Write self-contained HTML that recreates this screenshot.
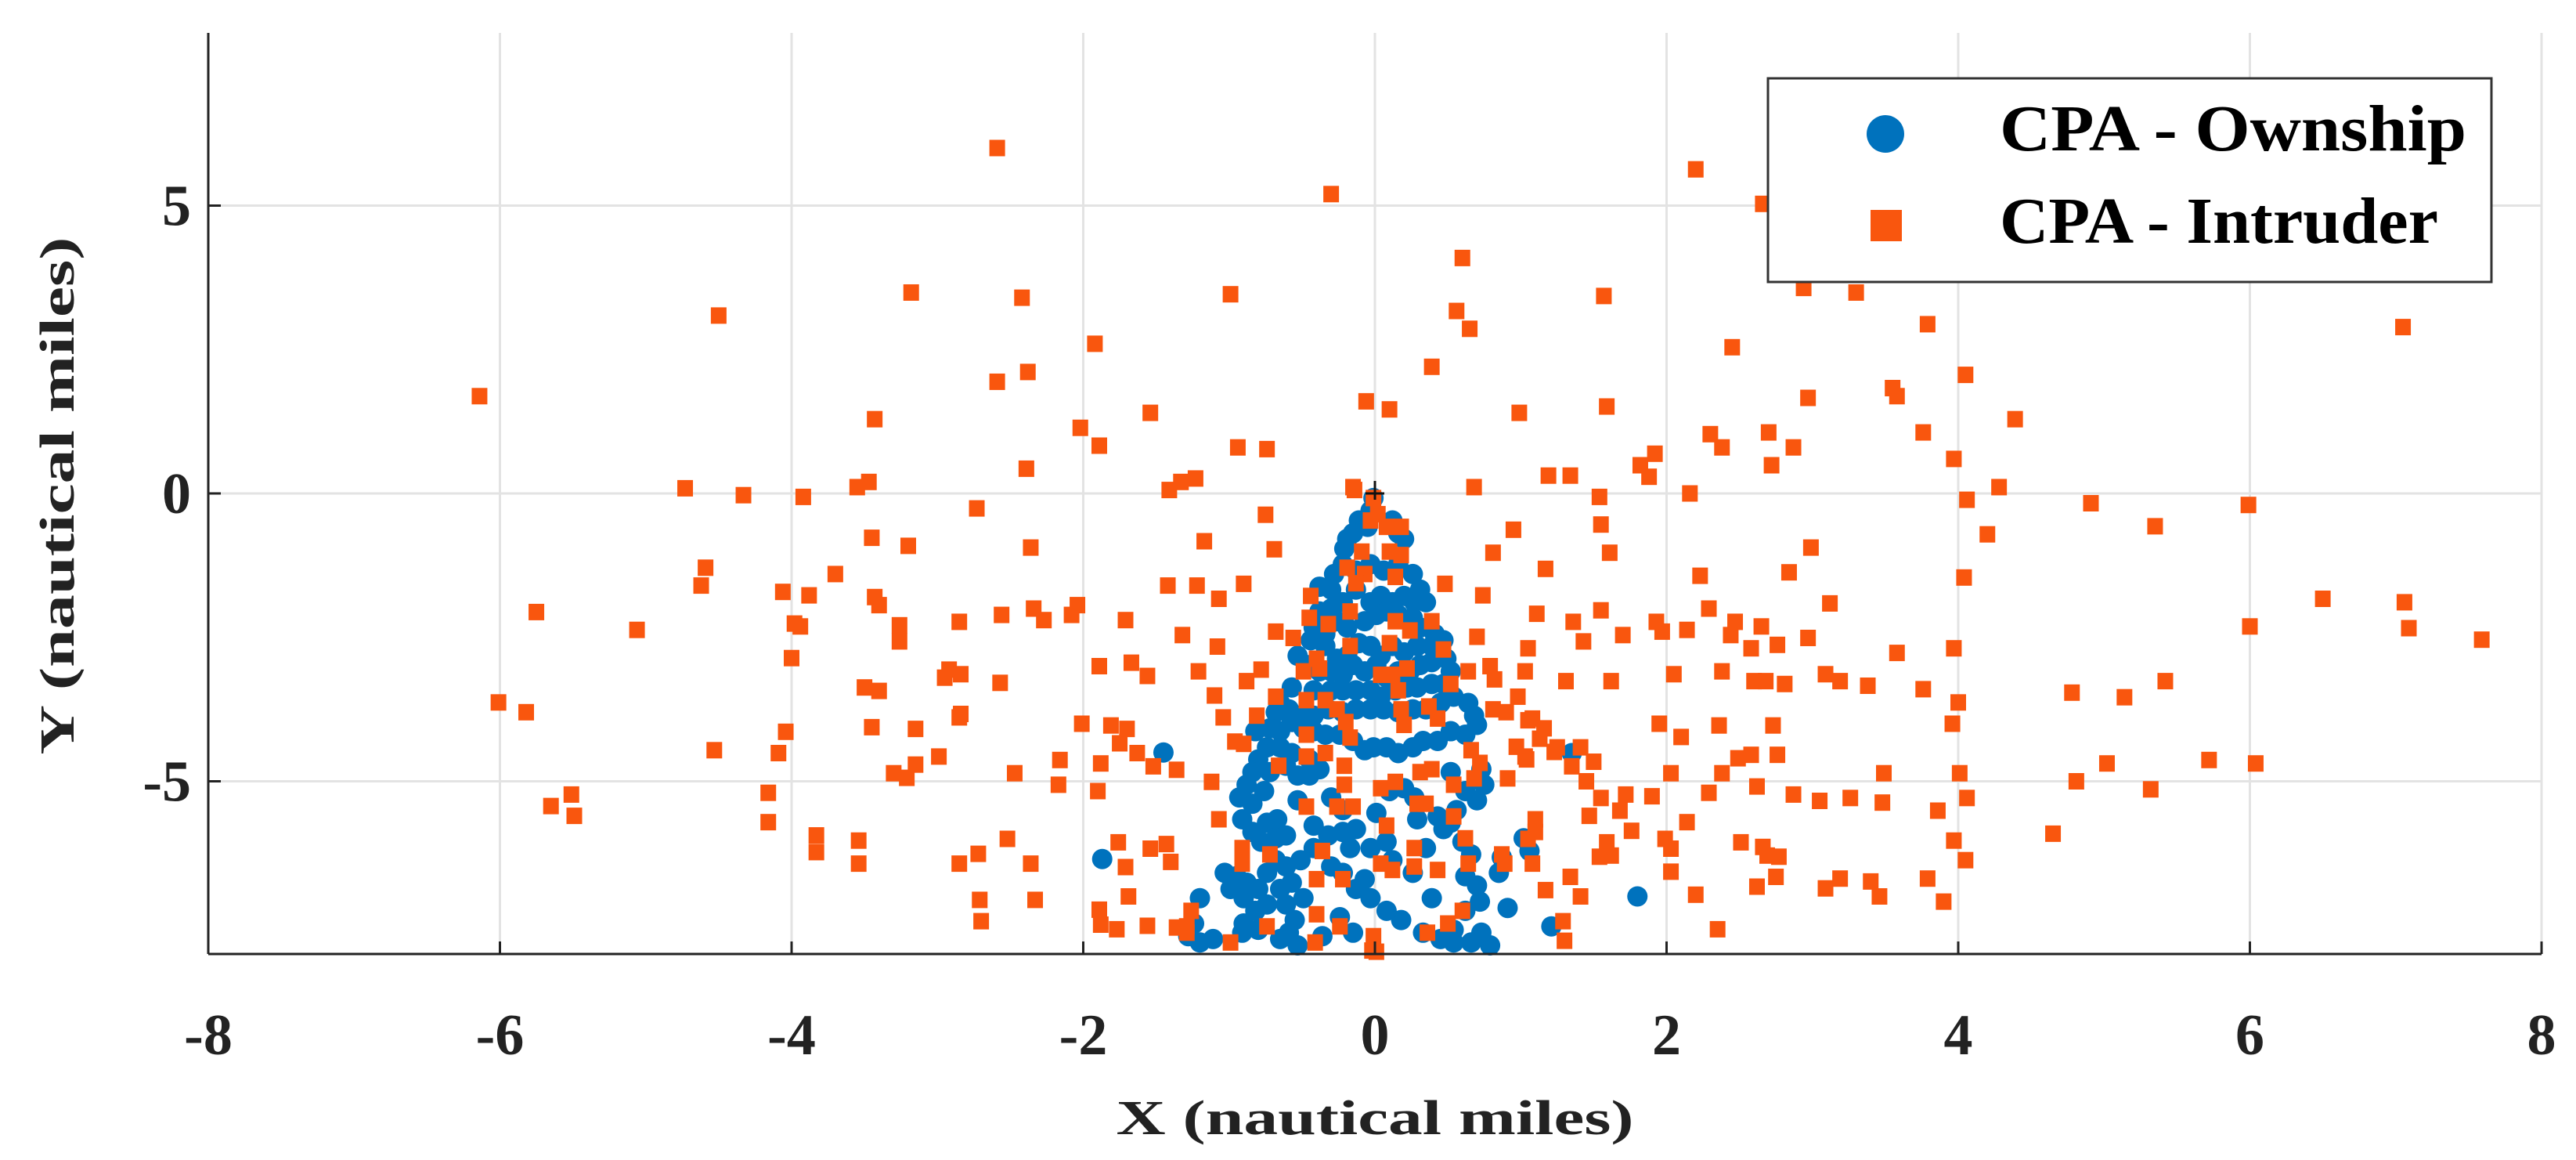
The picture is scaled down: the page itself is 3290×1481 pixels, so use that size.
<!DOCTYPE html>
<html><head><meta charset="utf-8"><style>
html,body{margin:0;padding:0;background:#fff;}
svg{display:block;}
text{font-family:"Liberation Serif",serif;font-weight:bold;fill:#222;}
</style></head><body>
<svg id="chart" width="3290" height="1481" viewBox="0 0 3290 1481" xmlns="http://www.w3.org/2000/svg">
<g id="grid"></g>
<g id="own"></g>
<g id="intr"></g>
<g id="axes"></g>
<text x="1756" y="1448" font-size="62" text-anchor="middle" textLength="661" lengthAdjust="spacingAndGlyphs">X (nautical miles)</text>
<text x="0" y="0" font-size="62" text-anchor="middle" textLength="661" lengthAdjust="spacingAndGlyphs" transform="translate(94,633) rotate(-90)">Y (nautical miles)</text>
<g>
<rect x="2258" y="100" width="924" height="260" fill="#fff" stroke="#333" stroke-width="3"/>
<ellipse cx="2408" cy="171" rx="24" ry="24" fill="#0072BD"/>
<text x="2554" y="192" font-size="84" textLength="596" lengthAdjust="spacingAndGlyphs" style="fill:#000">CPA - Ownship</text>
<rect x="2389" y="268" width="40" height="40" fill="#F9560E"/>
<text x="2554" y="310" font-size="84" textLength="560" lengthAdjust="spacingAndGlyphs" style="fill:#000">CPA - Intruder</text>
</g>
</svg>
<script>
const xTicks=[-8,-6,-4,-2,0,2,4,6,8];
const yTicks=[-5,0,5];
const ownX=[-0.01,-0.03,-0.11,-0.19,-0.21,-0.15,-0.05,0.12,0.16,0.20,-0.28,-0.38,-0.30,-0.22,-0.13,-0.03,0.06,0.16,0.26,0.31,0.35,0.27,0.20,0.12,0.04,-0.03,-0.13,-0.22,-0.30,-0.38,-0.42,-0.44,-0.34,-0.26,-0.19,-0.07,0.01,0.08,0.16,0.26,0.31,0.41,0.47,0.39,0.29,0.20,0.12,0.04,-0.03,-0.11,-0.19,-0.26,-0.34,-0.53,-0.47,-0.38,-0.30,-0.22,-0.15,-0.07,0.01,0.08,0.16,0.24,0.31,0.39,0.49,0.52,0.47,0.39,0.29,0.22,0.14,0.04,-0.03,-0.13,-0.22,-0.30,-0.42,-0.57,-0.65,-0.68,-0.59,-0.51,-0.42,-0.32,-0.22,-0.13,-0.03,0.06,0.16,0.26,0.35,0.45,0.54,0.64,0.68,0.70,0.62,0.52,0.43,0.33,0.26,0.16,0.08,-0.01,-0.07,-0.15,-0.24,-0.34,-0.42,-0.49,-0.57,-0.65,-0.72,-0.82,-0.74,-0.80,-0.84,-0.88,-0.93,-0.84,-0.76,-0.72,-0.61,-0.53,-0.45,-0.38,-0.45,-0.57,-0.65,-0.53,-0.30,-0.22,0.01,0.10,0.20,0.27,0.43,0.52,0.56,0.52,0.62,0.70,0.75,0.73,0.29,0.35,0.47,0.60,0.66,0.62,0.70,0.72,0.85,0.87,1.02,1.06,0.91,0.62,0.54,0.73,0.79,0.66,0.54,0.45,0.33,0.39,0.18,0.08,-0.03,-0.07,-0.13,-0.22,-0.30,-0.42,-0.51,-0.61,-0.68,-0.74,-0.80,-0.88,-0.95,-1.03,-0.99,-0.90,-0.82,-0.74,-0.65,-0.57,-0.61,-0.55,-0.49,-0.59,-0.65,-0.53,-0.80,-0.90,-0.91,-1.11,-1.20,-1.24,-1.20,-1.28,-0.36,-0.24,-0.15,-0.13,-0.22,-0.32,-0.42,-0.17,-0.03,0.08,0.12,0.26,-0.91,-0.84,-0.74,-0.67,-0.68,-0.61,-0.78,1.35,1.21,-1.87,-1.45,1.80];
const ownY=[-0.08,-0.30,-0.47,-0.79,-0.96,-0.69,-0.58,-0.47,-0.69,-0.79,-1.40,-1.62,-1.67,-1.23,-1.34,-1.23,-1.34,-1.23,-1.40,-1.67,-1.89,-1.89,-1.78,-1.89,-1.78,-1.89,-1.67,-1.89,-2.00,-2.05,-2.33,-2.55,-2.44,-2.22,-2.33,-2.22,-2.11,-2.05,-2.11,-2.16,-2.33,-2.44,-2.55,-2.65,-2.65,-2.76,-2.65,-2.82,-2.65,-2.60,-2.82,-2.87,-2.65,-2.82,-2.98,-3.09,-3.09,-3.15,-2.98,-3.09,-2.98,-3.20,-3.09,-3.09,-2.98,-2.93,-2.87,-3.09,-3.31,-3.31,-3.37,-3.37,-3.42,-3.53,-3.42,-3.42,-3.42,-3.42,-3.42,-3.37,-3.64,-3.80,-3.75,-3.86,-3.86,-3.75,-3.80,-3.75,-3.75,-3.75,-3.80,-3.75,-3.75,-3.64,-3.53,-3.64,-3.86,-4.02,-4.19,-4.13,-4.30,-4.30,-4.41,-4.51,-4.41,-4.41,-4.46,-4.30,-4.19,-4.19,-4.13,-4.08,-3.97,-4.13,-4.08,-4.13,-4.41,-4.62,-4.84,-5.06,-5.28,-5.39,-5.17,-4.84,-4.73,-4.90,-4.90,-4.79,-4.62,-4.51,-4.41,-5.33,-5.28,-5.50,-5.55,-5.17,-5.12,-5.28,-5.61,-5.72,-5.50,-4.84,-5.17,-5.33,-5.06,-4.79,-5.66,-6.16,-5.83,-6.05,-6.27,-6.65,-6.81,-7.09,-6.59,-6.32,-5.99,-6.21,-7.20,-7.25,-7.58,-7.63,-7.85,-7.80,-7.80,-7.74,-7.63,-7.03,-7.41,-7.25,-7.03,-6.70,-6.87,-6.59,-6.48,-6.16,-6.37,-6.48,-6.37,-6.59,-6.87,-6.76,-6.65,-6.59,-6.87,-7.03,-7.25,-7.14,-6.87,-6.76,-7.14,-7.41,-7.03,-7.63,-7.74,-7.85,-7.58,-7.47,-7.63,-7.74,-7.80,-7.47,-7.03,-7.69,-7.69,-7.36,-7.63,-5.83,-5.88,-5.94,-5.77,-6.16,-6.16,-6.05,-6.37,-6.59,-5.66,-5.88,-5.72,-5.66,-5.99,-5.94,-6.05,-4.51,-7.52,-6.35,-4.50,-7.00];
const intX=[-2.59,-0.30,2.20,2.66,0.60,-4.50,-3.18,-2.42,-0.99,0.56,0.65,1.57,2.94,3.30,3.79,7.05,2.45,-1.92,-2.38,-2.59,0.39,4.05,3.55,3.58,2.97,-6.14,-3.43,-1.54,-0.06,0.10,0.99,1.59,4.39,-2.02,-1.89,-0.94,-0.74,2.30,2.70,3.76,2.38,2.87,3.97,1.92,1.82,1.88,2.72,-2.39,-3.47,-3.55,-1.23,-1.33,-1.41,1.19,1.34,0.68,2.16,1.54,-4.73,-4.33,-3.92,-2.73,4.06,4.28,4.91,5.99,-0.75,-0.14,0.95,1.55,4.20,5.35,-3.45,-3.20,-2.36,-1.17,-0.69,0.81,1.61,2.99,4.04,-4.59,-4.62,-3.70,1.17,2.23,2.84,-4.06,-3.88,-3.43,-3.40,-2.85,-2.56,-2.34,-2.27,-2.04,-2.08,-1.71,-1.42,-1.22,-1.07,-0.90,0.48,0.74,1.11,1.36,1.55,1.93,2.29,2.47,3.12,6.50,7.06,7.09,6.00,7.59,-3.98,-3.94,-5.75,-5.06,-3.26,-3.26,-1.32,-1.08,-0.68,-0.56,0.70,1.05,1.43,1.70,1.97,2.14,2.44,2.65,2.58,2.76,2.97,3.58,3.97,-4.00,-2.92,-2.95,-2.84,-2.57,-3.50,-3.40,-1.89,-1.67,-1.56,-1.21,-1.10,-0.88,-0.78,0.79,0.82,1.03,1.31,1.62,2.05,2.38,2.60,2.68,2.81,3.09,3.19,3.38,3.76,4.00,4.78,5.14,5.42,-6.01,-5.82,-2.85,-2.84,-3.15,-3.45,-4.04,-4.53,-4.09,-2.99,-3.15,-3.30,-3.21,-2.47,-2.16,-2.01,-1.81,-1.70,-1.75,-1.63,-1.88,-1.52,-1.36,-2.17,-1.90,-1.04,-0.81,-0.96,0.90,1.05,1.13,0.97,1.03,1.23,1.50,1.35,1.45,1.95,2.10,2.03,2.36,2.49,2.38,2.58,2.73,2.76,3.49,3.48,3.05,3.26,3.96,4.81,5.02,5.32,5.72,6.04,4.01,4.06,3.86,2.87,2.62,2.29,2.14,1.90,1.72,1.68,1.55,1.47,1.76,1.59,1.54,1.62,1.99,2.03,2.51,2.66,2.69,2.77,2.75,2.62,3.09,3.19,3.40,3.46,3.79,3.90,3.97,4.05,4.65,2.03,2.20,2.35,1.34,1.41,1.17,1.29,1.30,1.05,1.08,0.89,-4.16,-4.16,-5.51,-5.65,-5.49,-3.83,-3.54,-3.83,-3.54,-2.85,-2.72,-2.52,-2.36,-2.33,-2.71,-2.70,-1.76,-1.54,-1.43,-1.40,-1.71,-1.69,-1.89,-1.88,-1.77,-1.56,-1.36,-1.29,-0.02,-0.15,-0.01,0.02,0.08,0.18,-0.03,-0.09,0.10,0.18,-0.19,-0.07,-0.13,0.14,-0.17,-0.32,-0.44,-0.45,0.14,0.24,0.10,0.39,-0.17,-0.40,-0.49,-0.38,0.12,0.22,0.04,0.47,0.64,-0.68,-0.47,-0.34,-0.26,-0.20,-0.17,0.16,0.18,0.20,0.37,0.43,0.52,-0.47,-0.47,-0.34,-0.66,-0.21,-0.21,0.04,0.14,0.31,0.39,0.54,0.66,0.72,0.68,-0.47,-0.26,-0.15,0.29,0.35,0.08,0.54,0.62,0.64,-0.72,-0.91,-0.91,-0.36,-0.40,-0.22,0.04,0.12,0.27,0.43,0.27,-0.40,-0.24,-0.74,-0.01,0.01,-0.41,0.36,0.50,0.60,-0.99,-1.26,-1.29,0.87,0.91,-1.07,-1.12,-0.90,0.81,0.98,1.08,1.16,1.04,1.25,1.41,1.10,1.10];
const intY=[6.00,5.20,5.63,5.03,4.09,3.09,3.49,3.40,3.46,3.17,2.86,3.43,3.57,3.49,2.94,2.89,2.54,2.60,2.11,1.94,2.20,2.06,1.83,1.69,1.66,1.69,1.29,1.40,1.60,1.46,1.40,1.51,1.29,1.14,0.83,0.80,0.77,1.03,1.06,1.06,0.80,0.80,0.60,0.69,0.49,0.29,0.49,0.43,0.20,0.11,0.26,0.20,0.06,0.31,0.31,0.11,0.00,-0.06,0.09,-0.03,-0.06,-0.26,-0.11,0.11,-0.17,-0.20,-0.37,0.06,-0.63,-0.54,-0.71,-0.57,-0.77,-0.91,-0.94,-0.83,-0.97,-1.03,-1.03,-0.94,-1.46,-1.29,-1.60,-1.40,-1.31,-1.43,-1.37,-1.71,-1.77,-1.80,-1.94,-2.23,-2.11,-2.00,-2.20,-1.94,-2.11,-2.20,-1.60,-1.60,-1.83,-1.57,-1.57,-1.77,-2.09,-2.23,-2.03,-2.23,-2.00,-2.23,-1.91,-1.83,-1.89,-2.34,-2.31,-2.54,-2.26,-2.31,-2.06,-2.37,-2.29,-2.57,-2.46,-2.66,-2.40,-2.51,-2.49,-2.69,-2.57,-2.46,-2.40,-2.37,-2.46,-2.31,-2.69,-2.63,-2.51,-2.77,-2.69,-2.86,-3.06,-3.20,-3.14,-3.29,-3.37,-3.43,-3.00,-2.94,-3.17,-3.09,-3.51,-3.26,-3.06,-3.00,-3.23,-3.09,-3.26,-3.26,-3.14,-3.09,-3.26,-3.26,-3.31,-3.14,-3.26,-3.34,-3.40,-3.63,-3.46,-3.54,-3.26,-3.63,-3.80,-3.89,-3.83,-4.09,-4.06,-4.14,-4.46,-4.51,-4.57,-4.71,-4.86,-4.94,-4.86,-4.63,-4.00,-4.03,-4.09,-4.34,-4.51,-4.69,-4.74,-4.80,-5.06,-5.17,-3.89,-3.86,-4.31,-3.80,-3.94,-4.26,-4.40,-4.57,-4.49,-4.66,-4.74,-5.00,-4.00,-4.23,-4.86,-4.03,-4.60,-4.86,-4.54,-4.03,-4.54,-4.86,-5.37,-5.34,-5.29,-4.00,-5.00,-4.69,-5.14,-4.63,-4.69,-4.86,-5.29,-5.51,-5.23,-5.09,-5.20,-5.71,-5.26,-5.23,-5.51,-5.29,-5.60,-5.86,-6.06,-6.31,-6.29,-6.00,-6.17,-6.06,-6.14,-6.29,-6.31,-6.66,-6.83,-6.86,-6.69,-6.74,-7.00,-6.69,-7.09,-6.03,-6.37,-5.91,-6.57,-6.97,-7.57,-6.66,-7.00,-6.89,-7.43,-7.77,-6.00,-6.43,-6.43,-5.20,-5.71,-5.23,-5.43,-5.60,-5.94,-6.03,-6.23,-6.43,-6.43,-6.26,-6.00,-6.43,-7.06,-7.06,-7.43,-6.06,-6.17,-6.09,-6.40,-6.49,-7.00,-7.23,-7.49,-7.57,-7.51,-7.54,-7.63,-7.94,0.11,-0.08,-0.36,-0.58,-0.58,-0.47,-1.01,-1.01,-1.07,-1.29,-1.40,-1.56,-1.45,-2.05,-2.27,-1.78,-2.16,-2.22,-2.38,-2.60,-2.22,-2.65,-2.87,-3.09,-3.04,-3.15,-3.04,-3.15,-2.71,-3.09,-3.53,-3.59,-3.59,-3.75,-3.97,-4.24,-3.42,-3.75,-4.02,-3.70,-3.91,-3.31,-4.19,-4.57,-4.51,-4.73,-4.73,-5.06,-5.12,-5.01,-4.84,-4.79,-5.06,-4.46,-4.68,-4.95,-5.44,-5.44,-5.44,-5.39,-5.39,-5.77,-5.61,-5.99,-6.43,-6.27,-6.16,-6.43,-6.21,-6.70,-6.70,-6.43,-6.54,-6.16,-6.54,-6.48,-7.31,-7.52,-7.52,-7.69,-7.96,-7.80,-7.63,-7.47,-7.25,-7.80,-7.25,-7.52,-6.27,-4.95,-5.66,-5.01,-4.35,-3.75,-3.53,-3.91,-4.08,-4.62,-4.41,-4.41,-5.88,-5.66];

const NS='http://www.w3.org/2000/svg';
const L=266,R=3246,T=42,B=1218;
const sx=v=>L+(v+8)/16*(R-L);
const sy=v=>B-(v+8)/16*(B-T);
function mk(tag,attrs,parent){const e=document.createElementNS(NS,tag);for(const k in attrs)e.setAttribute(k,attrs[k]);parent.appendChild(e);return e;}
const grid=document.getElementById('grid'),axes=document.getElementById('axes');
xTicks.forEach(t=>{
  const g=mk('line',{x1:sx(t),x2:sx(t),y1:T,y2:B,stroke:'#e3e3e3','stroke-width':3},grid);
  
  
  const tk=mk('line',{x1:sx(t),x2:sx(t),y1:B,y2:B-16,stroke:'#222','stroke-width':3},axes);
  
  
  const lb=mk('text',{x:sx(t),y:1346,'font-size':74,'text-anchor':'middle'},axes);
  lb.textContent=String(t);
  
  
});
yTicks.forEach(t=>{
  const g=mk('line',{x1:L,x2:R,y1:sy(t),y2:sy(t),stroke:'#e3e3e3','stroke-width':3},grid);
  
  
  const tk=mk('line',{x1:L,x2:L+16,y1:sy(t),y2:sy(t),stroke:'#222','stroke-width':3},axes);
  
  
  const lb=mk('text',{x:244,y:sy(t)+25,'font-size':74,'text-anchor':'end'},axes);
  lb.textContent=String(t);
  
  
});
const own=document.getElementById('own');
ownX.forEach((x,i)=>{
  const c=mk('circle',{cx:sx(x),cy:sy(ownY[i]),r:13,fill:'#0072BD'},own);
  
  
});
const intr=document.getElementById('intr');
intX.forEach((x,i)=>{
  const r=mk('rect',{x:sx(x)-10,y:sy(intY[i])-10.5,width:20,height:21,fill:'#F9560E'},intr);
  
  
});
const ax1=mk('line',{x1:L,x2:L,y1:T,y2:B,stroke:'#222','stroke-width':3},axes);


const ax2=mk('line',{x1:L,x2:R,y1:B,y2:B,stroke:'#222','stroke-width':3},axes);


const pl=mk('path',{d:`M${sx(0)-12},${sy(0)} h24 M${sx(0)},${sy(0)-16} v24`,stroke:'#111','stroke-width':3},axes);


</script>
</body></html>
